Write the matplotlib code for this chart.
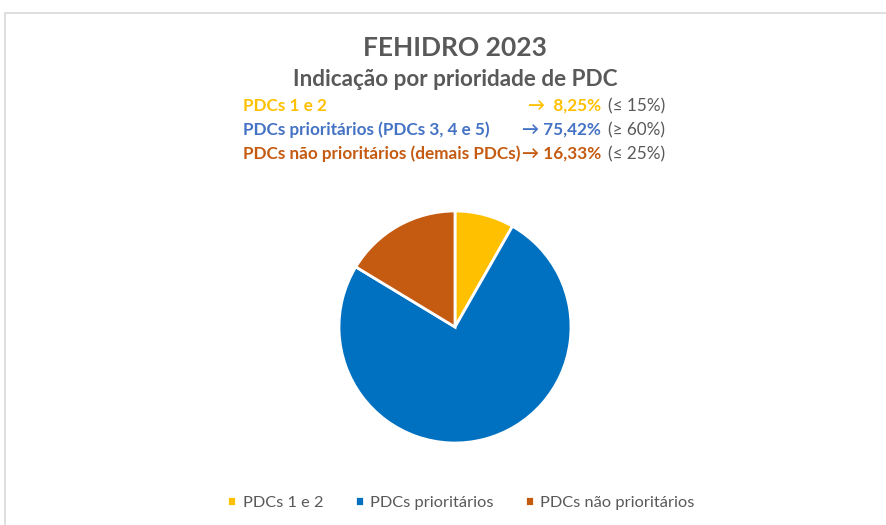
import matplotlib.pyplot as plt
from matplotlib.patches import Rectangle

W, H = 886, 525

labels = ['PDCs 1 e 2', 'PDCs prioritários', 'PDCs não prioritários']
shares = [8.25, 75.42, 16.33]
colors = ['#FFC000', '#0070C0', '#C55A11']

line_labels = ['PDCs 1 e 2', 'PDCs prioritários (PDCs 3, 4 e 5)', 'PDCs não prioritários (demais PDCs)']
line_pcts = ['→  8,25%', '→ 75,42%', '→ 16,33%']
line_limits = ['(≤ 15%)', '(≥ 60%)', '(≤ 25%)']
line_colors = ['#FFC000', '#4472C4', '#C55A11']

plt.rcParams['font.family'] = ['Lato', 'DejaVu Sans']

fig = plt.figure(figsize=(W / 100, H / 100), dpi=100)

def px(x, y):
    return x / W, 1 - y / H

# chart frame
fig.patches.append(Rectangle(px(5, 600), 1.2, (600 - 13) / H, transform=fig.transFigure,
                             fill=False, edgecolor='#D9D9D9', linewidth=1.2))

grey = '#595959'
fig.text(*px(455, 48), 'FEHIDRO 2023', ha='center', va='center', fontsize=19,
         fontweight='bold', color=grey)
fig.text(*px(455, 80), 'Indicação por prioridade de PDC', ha='center', va='center',
         fontsize=16.2, fontweight='bold', color=grey)

for i in range(3):
    y = 106 + 24 * i
    fig.text(*px(243, y), line_labels[i], ha='left', va='center', fontsize=12.3,
             fontweight='bold', color=line_colors[i])
    fig.text(*px(601, y), line_pcts[i], ha='right', va='center', fontsize=12.3,
             fontweight='bold', color=line_colors[i])
    fig.text(*px(608, y), line_limits[i], ha='left', va='center', fontsize=12.3,
             color=grey)

cx, cy, r = 455, 327, 116
ax = fig.add_axes([(cx - r) / W, (H - cy - r) / H, 2 * r / W, 2 * r / H])
wedges, _ = ax.pie(shares, colors=colors, startangle=90, counterclock=False,
                   wedgeprops=dict(edgecolor='white', linewidth=2))
ax.set_xlim(-1, 1)
ax.set_ylim(-1, 1)
ax.set_aspect('equal')
ax.axis('off')

fig.legend(wedges, labels, loc='center', bbox_to_anchor=px(461, 503), ncol=3,
           frameon=False, fontsize=11.8, handlelength=0.55, handleheight=0.55,
           handletextpad=0.4, columnspacing=1.9, labelcolor=grey)

fig.savefig('out.png', dpi=100)
